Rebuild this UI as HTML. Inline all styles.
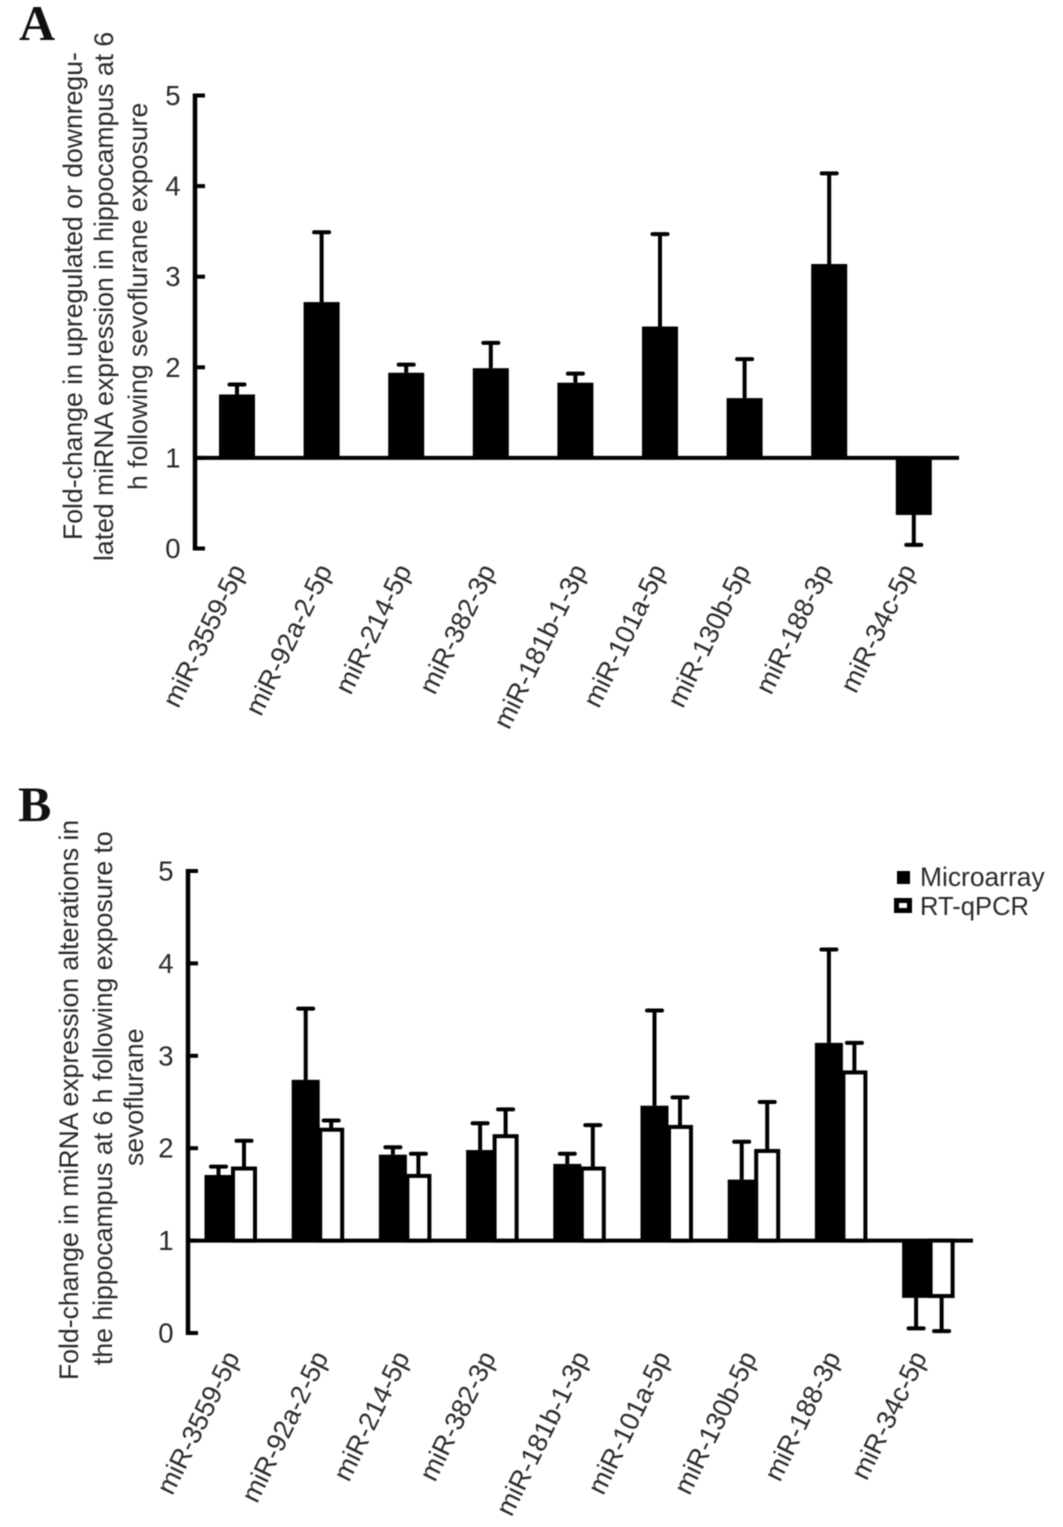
<!DOCTYPE html>
<html lang="en">
<head>
<meta charset="utf-8">
<title>Fold-change in miRNA expression</title>
<style>
html,body{margin:0;padding:0;background:#fff;}
svg{display:block;font-family:"Liberation Sans",sans-serif;filter:blur(0.5px);}
</style>
</head>
<body>
<svg id="chart" width="1063" height="1527" viewBox="0 0 1063 1527" xmlns="http://www.w3.org/2000/svg">
  <rect x="0" y="0" width="1063" height="1527" fill="#ffffff"/>
  <text x="19" y="40" font-family="'Liberation Serif',serif" font-weight="bold" font-size="50" fill="#111">A</text>
  <text x="18" y="821" font-family="'Liberation Serif',serif" font-weight="bold" font-size="50" fill="#111">B</text>

  <g font-size="26.6" fill="#2a2a2a">
    <text transform="translate(82,540) rotate(-90)">Fold-change in upregulated or downregu-</text>
    <text transform="translate(113,561) rotate(-90)">lated miRNA expression in hippocampus at 6</text>
    <text transform="translate(147,490) rotate(-90)">h following sevoflurane exposure</text>
  </g>
  <g font-size="26.6" fill="#2a2a2a">
    <text transform="translate(78,1380) rotate(-90)">Fold-change in miRNA expression alterations in</text>
    <text transform="translate(112,1365) rotate(-90)">the hippocampus at 6 h following exposure to</text>
    <text transform="translate(143,1166) rotate(-90)">sevoflurane</text>
  </g>

  <g>
    <rect x="897" y="871" width="13" height="13" fill="#000"/>
    <text x="920" y="886" font-size="26.4" fill="#2a2a2a">Microarray</text>
    <rect x="896.5" y="900.5" width="13" height="10" fill="#fff" stroke="#000" stroke-width="5"/>
    <text x="920" y="915" font-size="25.6" fill="#2a2a2a">RT-qPCR</text>
  </g>
  <g id="plot-a"></g>
  <g id="plot-b"></g>
</svg>
<script>
var categories = ["miR-3559-5p","miR-92a-2-5p","miR-214-5p","miR-382-3p","miR-181b-1-3p","miR-101a-5p","miR-130b-5p","miR-188-3p","miR-34c-5p"];
var yTicks = [0,1,2,3,4,5];
var baselineValue = 1;
var panelAValues = [1.70,2.72,1.94,1.99,1.83,2.45,1.66,3.14,0.37];
var panelAErrorEnds = [1.81,3.49,2.03,2.27,1.93,3.47,2.09,4.14,0.04];
var microarrayValues = [1.71,2.74,1.93,1.98,1.83,2.46,1.66,3.14,0.38];
var microarrayErrorEnds = [1.80,3.51,2.01,2.27,1.94,3.49,2.07,4.15,0.05];
var rtqpcrValues = [1.78,2.20,1.70,2.13,1.78,2.23,1.97,2.82,0.40];
var rtqpcrErrorEnds = [2.08,2.30,1.94,2.42,2.25,2.55,2.50,3.14,0.02];

var NS = "http://www.w3.org/2000/svg";

function make(parent, tag, attrs, name) {
  var el = document.createElementNS(NS, tag);
  for (var k in attrs) { el.setAttribute(k, attrs[k]); }
  
  
  parent.appendChild(el);
  return el;
}

function drawAxes(g, cfg, prefix) {
  make(g, "line", {x1: cfg.axisX, x2: cfg.axisX, y1: cfg.y(5) - 2, y2: cfg.y(0) + 2, stroke: "#000", "stroke-width": 4.5}, prefix + "-y-axis-line");
  yTicks.forEach(function (t) {
    make(g, "line", {x1: cfg.axisX, x2: cfg.axisX + 10, y1: cfg.y(t), y2: cfg.y(t), stroke: "#000", "stroke-width": 4}, prefix + "-y-tick-" + t);
    var lab = make(g, "text", {x: cfg.axisX - 14.5, y: cfg.y(t) + 9.5, "text-anchor": "end", "font-size": 27.5, fill: "#2a2a2a"}, prefix + "-y-tick-label-" + t);
    lab.textContent = String(t);
  });
  make(g, "line", {x1: cfg.axisX, x2: cfg.axisEnd, y1: cfg.y(baselineValue), y2: cfg.y(baselineValue), stroke: "#000", "stroke-width": 4}, prefix + "-baseline");
}

function drawBar(g, cx, w, value, errEnd, hollow, cfg, name) {
  var y0 = cfg.y(baselineValue), yv = cfg.y(value), ye = cfg.y(errEnd);
  make(g, "line", {x1: cx, x2: cx, y1: yv, y2: ye, stroke: "#000", "stroke-width": 4}, name + "-error-stem");
  make(g, "line", {x1: cx - 7.5, x2: cx + 7.5, y1: ye, y2: ye, stroke: "#000", "stroke-width": 4, "stroke-linecap": "round"}, name + "-error-cap");
  var top = Math.min(y0, yv), h = Math.abs(y0 - yv);
  if (hollow) {
    make(g, "rect", {x: cx - w / 2 + 1.5, y: top, width: w - 3, height: h, fill: "#fff", stroke: "#000", "stroke-width": 4}, name);
  } else {
    make(g, "rect", {x: cx - w / 2, y: top, width: w, height: h, fill: "#000"}, name);
  }
}

function drawLabels(g, cfg, prefix) {
  categories.forEach(function (c, i) {
    var lx = cfg.labelX(i, c), ly = cfg.labelY;
    var t = make(g, "text", {transform: "translate(" + lx + "," + ly + ") rotate(-64)", "text-anchor": "end", "font-size": 26.8, fill: "#2a2a2a"}, prefix + "-x-label-" + c.toLowerCase());
    t.textContent = c;
  });
}

var panelA = {
  axisX: 195, axisEnd: 959,
  y: function (v) { return 548.5 - v * 90.6; },
  cx: function (i) { return 237 + i * 84.6; },
  labelX: function (i, c) { return 237 + i * 84.6 + 2.4 * (c.length - 8) + 2 - 0.5 * i; },
  labelY: 570
};
var panelB = {
  axisX: 188, axisEnd: 973,
  y: function (v) { return 1333 - v * 92.4; },
  cx: function (i) { return 232 + i * 87.2; },
  labelX: function (i, c) { return 231 + i * 86.2 + 2.4 * (c.length - 8) + 2; },
  labelY: 1357
};

var gA = document.getElementById("plot-a");
drawAxes(gA, panelA, "panel-a");
categories.forEach(function (c, i) {
  drawBar(gA, panelA.cx(i), 36, panelAValues[i], panelAErrorEnds[i], false, panelA, "panel-a-bar-" + c.toLowerCase());
});
drawLabels(gA, panelA, "panel-a");

var gB = document.getElementById("plot-b");
drawAxes(gB, panelB, "panel-b");
categories.forEach(function (c, i) {
  drawBar(gB, panelB.cx(i) + 12, 25, rtqpcrValues[i], rtqpcrErrorEnds[i], true, panelB, "panel-b-rt-qpcr-bar-" + c.toLowerCase());
  drawBar(gB, panelB.cx(i) - 13.5, 28, microarrayValues[i], microarrayErrorEnds[i], false, panelB, "panel-b-microarray-bar-" + c.toLowerCase());
});
drawLabels(gB, panelB, "panel-b");
</script>
</body>
</html>
